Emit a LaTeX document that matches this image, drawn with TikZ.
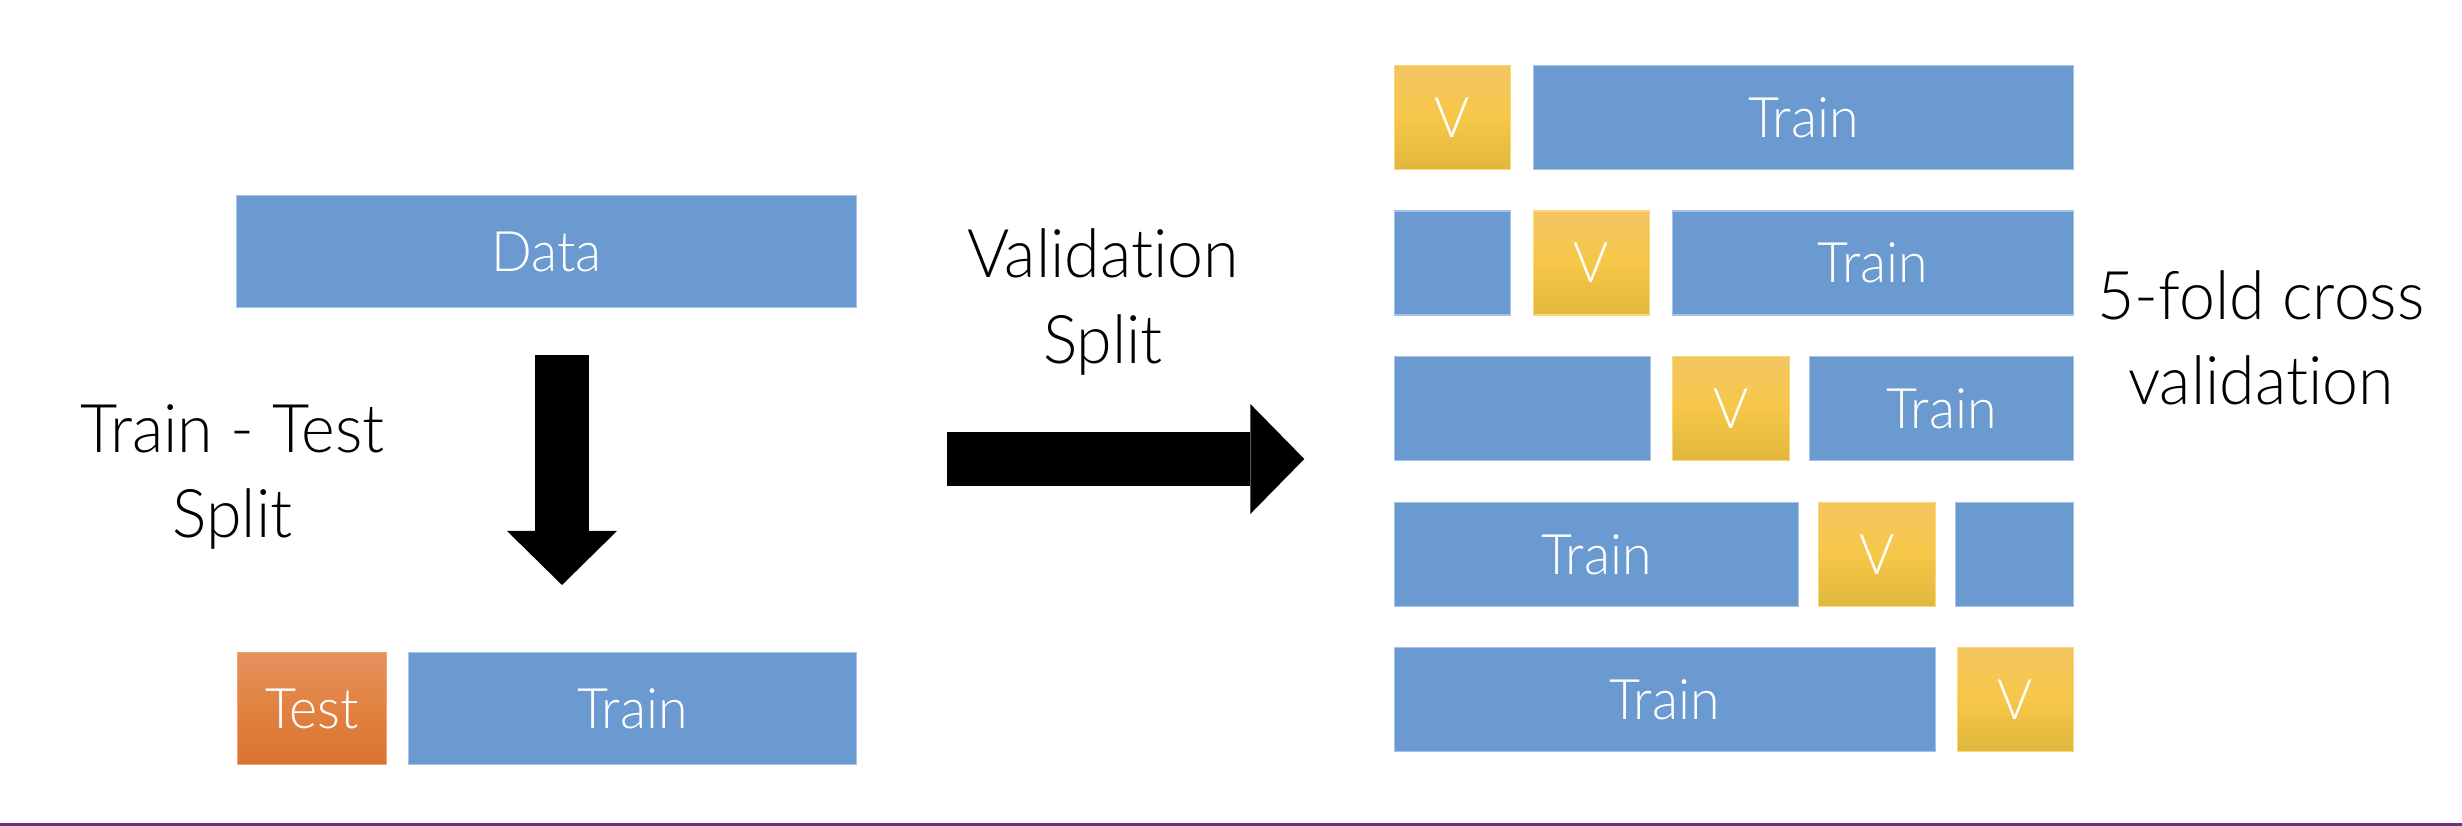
\documentclass[tikz,border=0pt]{standalone}
\usepackage{fontspec}
\usetikzlibrary{arrows.meta}
\newfontfamily\gillfont[FakeStretch=0.96, Ligatures=NoCommon]{Lato Light}
\definecolor{trainblue}{RGB}{106,154,208}
\definecolor{trainedge}{RGB}{165,195,232}
\definecolor{valtop}{RGB}{244,198,98}
\definecolor{valmid}{RGB}{246,199,72}
\definecolor{valbot}{RGB}{224,183,62}
\definecolor{valedge}{RGB}{249,214,118}
\definecolor{testtop}{RGB}{227,146,96}
\definecolor{testmid}{RGB}{226,130,64}
\definecolor{testbot}{RGB}{216,115,50}
\definecolor{testedge}{RGB}{238,165,118}
\definecolor{slideline}{RGB}{99,56,130}

\begin{document}
\begin{tikzpicture}
    [x=0.1mm, y=-0.1mm,
      every node/.style={inner sep=0pt, text=white, font=\gillfont\fontsize{15.9}{19}\selectfont},
      box/.style={anchor=north west, minimum height=10.4mm, line width=0.3pt},
      trainbox/.style={box, fill=trainblue, draw=trainedge, minimum width=#1},
      valbox/.style={box, top color=valtop, bottom color=valbot, middle color=valmid, draw=valedge, minimum width=#1},
      testbox/.style={box, top color=testtop, bottom color=testbot, middle color=testmid, draw=testedge, minimum width=#1},
      caption/.style={text=black, align=center, font=\gillfont\fontsize{19.1}{24.2}\selectfont},
      blockarrow/.style={line width=5.34mm, -{Triangle[length=5.4mm, width=11mm, line width=0pt]}},
    ]
    \useasboundingbox (0,0) rectangle (2462,826);

    \node [trainbox=62mm, minimum height=11.2mm] (data) at (236,195) {Data};
    \node [testbox=14.9mm, minimum height=11.2mm] (test) at (237,652) {Test};
    \node [trainbox=44.8mm, minimum height=11.2mm] (train) at (408,652) {Train};

    \node [valbox=11.6mm] (v1) at (1394,65) {V};
    \node [trainbox=54mm] (t1) at (1533,65) {Train};

    \node [trainbox=11.6mm] (b2) at (1394,210.5) {};
    \node [valbox=11.6mm] (v2) at (1533,210.5) {V};
    \node [trainbox=40.1mm] (t2) at (1672,210.5) {Train};

    \node [trainbox=25.65mm] (b3) at (1393.5,356) {};
    \node [valbox=11.7mm] (v3) at (1672,356) {V};
    \node [trainbox=26.4mm] (t3) at (1809,356) {Train};

    \node [trainbox=40.45mm] (t4) at (1393.5,502) {Train};
    \node [valbox=11.65mm] (v4) at (1818,502) {V};
    \node [trainbox=11.8mm] (b4) at (1955,502) {};

    \node [trainbox=54.1mm] (t5) at (1393.5,647) {Train};
    \node [valbox=11.6mm] (v5) at (1957,647) {V};

    \node [caption] (ttsplit) at (232.5,477) {Train - Test\\Split};
    \node [caption] (vsplit) at (1103,302) {Validation\\Split};
    \node [caption] (kfold) at (2261,338) {5-fold cross\\validation};

    \coordinate (dstart) at (562,355);
    \coordinate (dend) at (562,585);
    \coordinate (vstart) at (947,459);
    \coordinate (vend) at (1304.3,459);
    \draw [blockarrow] (dstart) -- (dend);
    \draw [blockarrow] (vstart) -- (vend);

    \fill [slideline] (0,823.5) rectangle (2462,826);
  \end{tikzpicture}
\end{document}
